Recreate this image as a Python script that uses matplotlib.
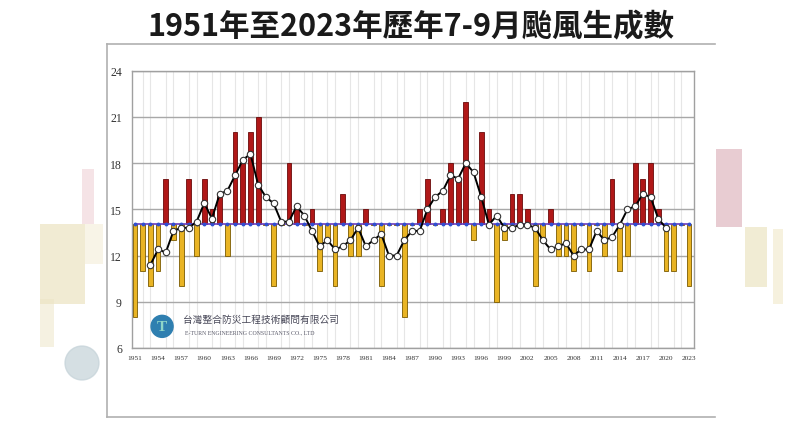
import numpy as np
import matplotlib
matplotlib.use("Agg")
import matplotlib.pyplot as plt
from matplotlib.patches import Rectangle, Circle, Ellipse

plt.rcParams['font.family'] = ['Noto Sans CJK TC', 'DejaVu Sans']

# 7-9月颱風生成數 (1951-2023)
years = np.arange(1951, 2024)
counts = [8, 11, 10, 11, 17, 13, 10, 17, 12, 17,
          15, 16, 12, 20, 18, 20, 21, 14, 10, 14,
          18, 15, 14, 15, 11, 13, 10, 16, 12, 12,
          15, 14, 10, 14, 14, 8, 14, 15, 17, 14,
          15, 18, 17, 22, 13, 20, 15, 9, 13, 16,
          16, 15, 10, 13, 15, 12, 12, 11, 14, 11,
          14, 12, 17, 11, 12, 18, 17, 18, 15, 11,
          11, 14, 10]
mean_count = 14.08

# 5年移動平均 (1953-2020)
ma_years = np.arange(1953, 2021)
ma_values = [11.4, 12.4, 12.2, 13.6, 13.8, 13.8, 14.2, 15.4, 14.4, 16.0,
             16.2, 17.2, 18.2, 18.6, 16.6, 15.8, 15.4, 14.2, 14.2, 15.2,
             14.6, 13.6, 12.6, 13.0, 12.4, 12.6, 13.0, 13.8, 12.6, 13.0,
             13.4, 12.0, 12.0, 13.0, 13.6, 13.6, 15.0, 15.8, 16.2, 17.2,
             17.0, 18.0, 17.4, 15.8, 14.0, 14.6, 13.8, 13.8, 14.0, 14.0,
             13.8, 13.0, 12.4, 12.6, 12.8, 12.0, 12.4, 12.4, 13.6, 13.0,
             13.2, 14.0, 15.0, 15.2, 16.0, 15.8, 14.4, 13.8]

xtick_years = np.arange(1951, 2024, 3)
yticks = [6, 9, 12, 15, 18, 21, 24]

fig = plt.figure(figsize=(8.1, 4.27), dpi=100)
fig.patch.set_facecolor('white')

# blurred background bits from the screenshot
deco = [((40, 225), 45, 80, '#e6dcb0', 0.55), ((40, 300), 14, 48, '#ece4c4', 0.5),
        ((82, 170), 12, 55, '#ecc8cf', 0.5), ((85, 225), 18, 40, '#f2ead0', 0.5),
        ((716, 150), 26, 78, '#d9aab5', 0.6), ((745, 228), 22, 60, '#e9e0b8', 0.6),
        ((773, 230), 10, 75, '#f0e8c8', 0.6)]
for (x0, y0), w, h, c, a in deco:
    fig.patches.append(Rectangle((x0 / 810, 1 - (y0 + h) / 427), w / 810, h / 427,
                                 transform=fig.transFigure, color=c, alpha=a,
                                 lw=0, zorder=0))
fig.patches.append(Ellipse((82 / 810, 1 - 364 / 427), 34 / 810, 34 / 427,
                           transform=fig.transFigure, color='#c4d2d8', alpha=0.7, zorder=0))
# white chart panel
fig.patches.append(Rectangle((107 / 810, 1 - 418 / 427), 608 / 810, 373 / 427,
                             transform=fig.transFigure, facecolor='white',
                             edgecolor='none', zorder=1))
for xs, ys in [([107, 107], [45, 418]), ([107, 715], [45, 45]), ([107, 715], [418, 418])]:
    fig.lines.append(plt.Line2D([x / 810 for x in xs], [1 - y / 427 for y in ys],
                                transform=fig.transFigure, color='#b0b0b0', lw=1.2, zorder=2))

fig.text(0.508, 1 - 27 / 427, '1951年至2023年歷年7-9月颱風生成數', ha='center', va='center',
         fontsize=22, fontweight='bold', color='#1a1a1a')

ax = fig.add_axes([0.1626, 0.1827, 0.6942, 0.6494])
ax.set_zorder(3)

vals = np.array(counts, dtype=float)
diff = vals - mean_count
colors = ['#b01818' if d > 0 else '#e9b424' for d in diff]
edges = ['#6a0a0a' if d > 0 else '#7a5a00' for d in diff]
ax.bar(years, diff, bottom=mean_count, width=0.62, color=colors, edgecolor=edges,
       linewidth=0.6, zorder=3)

ax.plot(years, [mean_count] * len(years), color='#6a3cc0', lw=1.2, marker='o',
        markersize=1.8, markerfacecolor='#3050d0', markeredgecolor='#3050d0', zorder=4)
ax.plot(ma_years, ma_values, color='black', lw=1.4, marker='o', markersize=4.6,
        markerfacecolor='white', markeredgecolor='#333333', markeredgewidth=0.8, zorder=5)

ax.set_xlim(1950.57, 2023.65)
ax.set_ylim(6, 24)
ax.set_yticks(yticks)
ax.set_xticks(xtick_years)
ax.set_xticks(years, minor=True)
ax.set_yticklabels([str(v) for v in yticks], family='Liberation Serif', fontsize=8.5,
                   color='#333333')
ax.set_xticklabels([str(v) for v in xtick_years], family='Liberation Serif', fontsize=5.3,
                   color='#333333')
ax.tick_params(axis='both', which='both', length=0)
ax.tick_params(axis='y', pad=7)
ax.tick_params(axis='x', pad=5)
ax.grid(axis='y', which='major', color='#a8a8a8', lw=1.0, zorder=0)
ax.grid(axis='x', which='minor', color='#e6e6e6', lw=0.8, zorder=0)
for s in ax.spines.values():
    s.set_color('#a0a0a0')
    s.set_linewidth(1.0)

# company logo (round: axes is 562x277 px)
ax.add_patch(Ellipse((0.054, 0.078), 22 / 562, 22 / 277, transform=ax.transAxes,
                     color='#2f7fb0', zorder=2))
ax.text(0.054, 0.078, 'T', transform=ax.transAxes, ha='center', va='center', fontsize=11,
        color='#8fd6c8', fontweight='bold', family='Liberation Serif', zorder=3)
ax.text(0.092, 0.105, '台灣整合防災工程技術顧問有限公司', transform=ax.transAxes,
        fontsize=7, color='#4a4a5a', va='center', zorder=3)
ax.text(0.095, 0.058, 'E-TURN ENGINEERING CONSULTANTS CO., LTD', transform=ax.transAxes,
        fontsize=4.2, color='#5a5a6a', va='center', family='Liberation Serif', zorder=3)

fig.savefig('out.png', dpi=100)
